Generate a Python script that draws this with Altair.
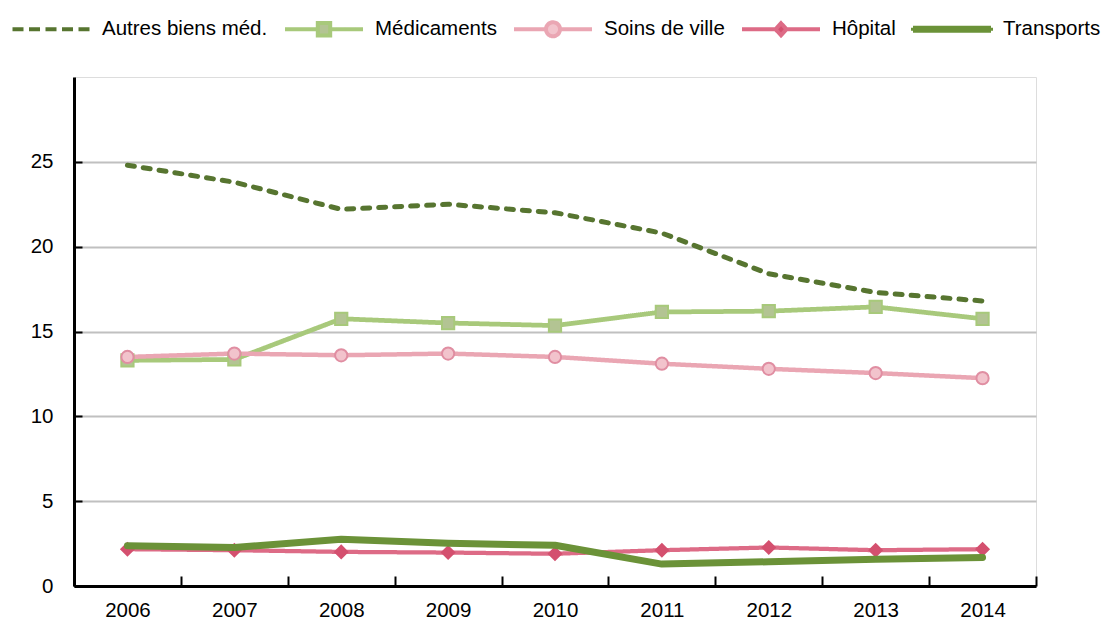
import altair as alt
import pandas as pd

years = ["2006", "2007", "2008", "2009", "2010", "2011", "2012", "2013", "2014"]
series = ["Autres biens méd.", "Médicaments", "Soins de ville", "Hôpital", "Transports"]
autres = [24.8, 23.8, 22.2, 22.5, 22.0, 20.8, 18.4, 17.3, 16.8]
medicaments = [13.3, 13.35, 15.75, 15.5, 15.35, 16.15, 16.2, 16.45, 15.75]
soins = [13.5, 13.7, 13.6, 13.7, 13.5, 13.1, 12.8, 12.55, 12.25]
hopital = [2.17, 2.11, 2.01, 1.97, 1.9, 2.11, 2.27, 2.11, 2.17]
transports = [2.37, 2.27, 2.76, 2.52, 2.4, 1.29, 1.43, 1.57, 1.68]
y_ticks = [0, 5, 10, 15, 20, 25]

line_colors = ["#577530", "#a8c97b", "#eaa6b3", "#dd6b86", "#6b9238"]
dashes = [[7, 9], [1, 0], [1, 0], [1, 0], [1, 0]]
widths = [5, 4, 4.5, 4.5, 7]

marker_series = ["Médicaments", "Soins de ville", "Hôpital"]
marker_shapes = ["square", "circle", "diamond"]
marker_fill = ["#b3c493", "#f2c3cc", "#d4506f"]
marker_stroke = ["#a8c97b", "#e08ea2", "#d4506f"]

# legend symbols (line + marker drawn as one path); leading moves give equal heights
sym_paths = [
    "M0,-0.75M0,0.75M-3.85,0H3.85",
    "M0,-0.75M0,0.75M-3.9,0H-0.62M0.62,0H3.9M-0.62,-0.62H0.62V0.62H-0.62Z",
    "M0,-0.75M0,0.75M-3.9,0H-0.7M0.7,0H3.9M0.7,0A0.7,0.7,0,1,1,-0.7,0A0.7,0.7,0,1,1,0.7,0Z",
    "M0,-0.75M0,0.75M-3.9,0H-0.55M0.55,0H3.9M0,-0.6L0.55,0L0,0.6L-0.55,0Z",
    "M0,-0.75M0,0.75M-3.9,-0.15H3.9V0.15H-3.9Z",
]
sym_fill = ["transparent", "#b3c493", "#f2c3cc", "#d4506f", "#6b9238"]
sym_dash = [[11, 5.5], [1, 0], [1, 0], [1, 0], [1, 0]]

rows = []
for name, vals in zip(series, [autres, medicaments, soins, hopital, transports]):
    for yr, v in zip(years, vals):
        rows.append({"year": yr, "series": name, "value": v})
df = pd.DataFrame(rows)

FONT = "Liberation Sans, Arial, sans-serif"
FS = 20.5
W, H = 962, 509

xscale = alt.Scale(type="band", domain=years, paddingInner=0, paddingOuter=0)
yscale = alt.Scale(domain=[0, 30], nice=False)

def make_legend():
    return alt.Legend(
        title=None,
        orient="none",
        legendX=-35,
        legendY=-60,
        direction="horizontal",
        labelFont=FONT,
        labelFontSize=FS,
        labelColor="#000000",
        labelOffset=39,
        labelLimit=0,
        columnPadding=9,
        symbolSize=400,
        symbolStrokeWidth=4,
    )

base = alt.Chart(df)

lines = base.transform_filter(alt.datum.series != "Transports").mark_line(
    strokeCap="round", strokeJoin="round"
).encode(
    x=alt.X("year:O", scale=xscale, title=None,
            axis=alt.Axis(orient="bottom", tickBand="extent", ticks=False, tickSize=0,
                          domainColor="#000000", domainWidth=3, labelAngle=0,
                          labelFont=FONT, labelFontSize=FS, labelColor="#000000",
                          labelPadding=14, grid=False)),
    y=alt.Y("value:Q", scale=yscale, title=None,
            axis=alt.Axis(orient="left", values=y_ticks, ticks=False, tickSize=0,
                          domainColor="#000000", domainWidth=3,
                          gridColor="#c0c0c0", gridWidth=2,
                          labelFont=FONT, labelFontSize=FS, labelColor="#000000",
                          labelPadding=21)),
    color=alt.Color("series:N", scale=alt.Scale(domain=series, range=line_colors), legend=None),
    strokeDash=alt.StrokeDash("series:N", scale=alt.Scale(domain=series, range=dashes), legend=None),
    strokeWidth=alt.StrokeWidth("series:N", scale=alt.Scale(domain=series, range=widths), legend=None),
)

points = base.transform_filter(
    alt.FieldOneOfPredicate(field="series", oneOf=marker_series)
).mark_point(filled=False, opacity=1, strokeWidth=2, size=150).encode(
    x=alt.X("year:O", scale=xscale, title=None,
            axis=alt.Axis(orient="top", offset=-H, tickBand="extent", labels=False, domain=False,
                          grid=False, ticks=True, tickSize=10, tickWidth=2, tickColor="#000000")),
    y=alt.Y("value:Q", scale=yscale, title=None,
            axis=alt.Axis(orient="right", offset=-W, values=y_ticks, labels=False, domain=False,
                          grid=False, ticks=True, tickSize=8, tickWidth=2, tickColor="#000000")),
    shape=alt.Shape("series:N", scale=alt.Scale(domain=marker_series, range=marker_shapes), legend=None),
    fill=alt.Fill("series:N", scale=alt.Scale(domain=marker_series, range=marker_fill), legend=None),
    stroke=alt.Stroke("series:N", scale=alt.Scale(domain=marker_series, range=marker_stroke), legend=None),
)

trans = base.transform_filter(alt.datum.series == "Transports").mark_line(
    strokeCap="round", strokeJoin="round", color=line_colors[4], strokeWidth=widths[4]
).encode(
    x=alt.X("year:O", scale=xscale, axis=None),
    y=alt.Y("value:Q", scale=yscale, axis=None),
)

legend_layer = base.transform_filter("false").mark_point(opacity=1, filled=False, strokeWidth=4).encode(
    x=alt.X("year:O", scale=xscale, axis=None),
    y=alt.Y("value:Q", scale=yscale, axis=None),
    shape=alt.Shape("series:N", scale=alt.Scale(domain=series, range=sym_paths), legend=make_legend()),
    fill=alt.Fill("series:N", scale=alt.Scale(domain=series, range=sym_fill), legend=make_legend()),
    stroke=alt.Stroke("series:N", scale=alt.Scale(domain=series, range=line_colors), legend=make_legend()),
    strokeDash=alt.StrokeDash("series:N", scale=alt.Scale(domain=series, range=sym_dash), legend=make_legend()),
)

chart = alt.layer(lines, points, trans, legend_layer).resolve_axis(
    x="independent", y="independent"
).resolve_scale(
    color="independent", shape="independent", fill="independent", stroke="independent",
    strokeDash="independent", strokeWidth="independent"
).properties(
    width=W,
    height=H,
    padding={"left": 22, "top": 9, "right": 0, "bottom": 0},
).configure_view(stroke=None).configure(background="white")

chart.save("out.html", embed_options={"renderer": "svg", "actions": False})
